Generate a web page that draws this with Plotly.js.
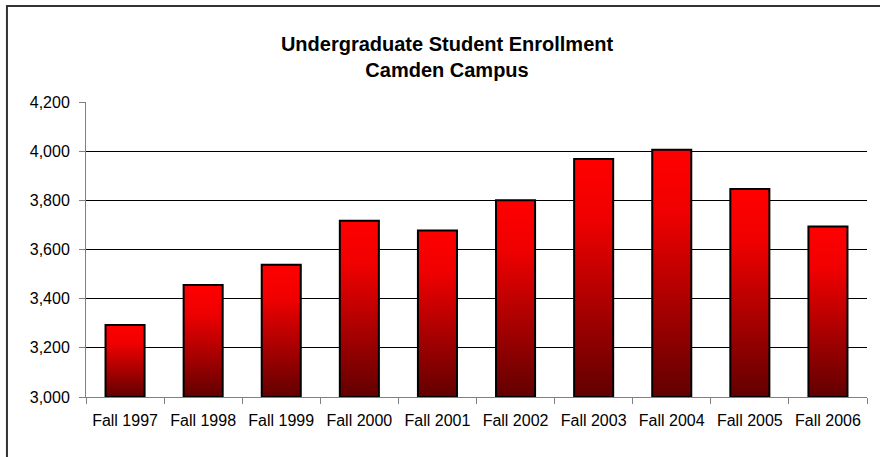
<!DOCTYPE html>
<html>
<head>
<meta charset="utf-8">
<script src="https://cdn.plot.ly/plotly-3.0.1.min.js"></script>
<style>
  html, body { margin: 0; padding: 0; background: #fff; }
  #chart { width: 880px; height: 457px; }
  #gradDefs { position: absolute; width: 0; height: 0; overflow: hidden; }
  #chart .bars .point path { fill: url(#barRedGradient) !important; fill-opacity: 1 !important; }
</style>
</head>
<body>
<svg id="gradDefs" xmlns="http://www.w3.org/2000/svg" aria-hidden="true">
  <defs>
    <linearGradient id="barRedGradient" x1="0" y1="0" x2="0" y2="1">
      <stop offset="0" stop-color="#ff0000"/>
      <stop offset="0.25" stop-color="#f00000"/>
      <stop offset="1" stop-color="#620000"/>
    </linearGradient>
  </defs>
</svg>
<div id="chart"></div>
<script>
const categories = ["Fall 1997", "Fall 1998", "Fall 1999", "Fall 2000", "Fall 2001",
                    "Fall 2002", "Fall 2003", "Fall 2004", "Fall 2005", "Fall 2006"];
const enrollment = [3293, 3456, 3538, 3717, 3677, 3800, 3968, 4006, 3846, 3694];
const yTickValues = [3000, 3200, 3400, 3600, 3800, 4000, 4200];
const chartTitle = "Undergraduate Student Enrollment<br>Camden Campus";
const axisFloor = 3000;

// Bars start at the axis floor so each bar's gradient spans only its visible part.
const trace = {
  type: "bar",
  x: categories,
  base: axisFloor,
  y: enrollment.map(function (v) { return v - axisFloor; }),
  customdata: enrollment,
  hovertemplate: "%{x}: %{customdata:,}<extra></extra>",
  marker: { color: "#b00000", line: { color: "#000000", width: 2 } }
};

const layout = {
  width: 880,
  height: 457,
  margin: { l: 86, r: 13, t: 102, b: 60 },
  paper_bgcolor: "#ffffff",
  plot_bgcolor: "#ffffff",
  showlegend: false,
  bargap: 0.5,
  font: { family: "Liberation Sans, Arial, sans-serif", size: 16, color: "#000" },
  title: {
    text: chartTitle,
    font: { family: "Liberation Sans, Arial, sans-serif", size: 20, color: "#000", weight: "bold" },
    x: 0.508, xref: "container", xanchor: "center",
    y: 0.888, yref: "container", yanchor: "middle"
  },
  xaxis: {
    type: "category",
    showgrid: false,
    showline: true, linecolor: "#808080", linewidth: 1,
    ticks: "outside", ticklen: 6, tickcolor: "#808080", tickson: "boundaries",
    tickfont: { size: 16, color: "#000" },
    ticklabelstandoff: 9,
    zeroline: false,
    fixedrange: true
  },
  yaxis: {
    range: [3000, 4200],
    tickvals: yTickValues,
    tickformat: ",d",
    showgrid: true, gridcolor: "#000000", gridwidth: 1,
    showline: true, linecolor: "#808080", linewidth: 1,
    ticks: "outside", ticklen: 6, tickcolor: "#808080",
    tickfont: { size: 16, color: "#000" },
    ticklabelstandoff: 6,
    zeroline: false,
    fixedrange: true
  },
  shapes: [{
    type: "rect", xref: "paper", yref: "paper",
    x0: -0.1012, x1: 1.4, y0: -0.5, y1: 1.3254,
    line: { color: "#333333", width: 2 }, fillcolor: "rgba(0,0,0,0)", layer: "below"
  }]
};

Plotly.newPlot("chart", [trace], layout, { displayModeBar: false, staticPlot: true });
</script>
</body>
</html>
